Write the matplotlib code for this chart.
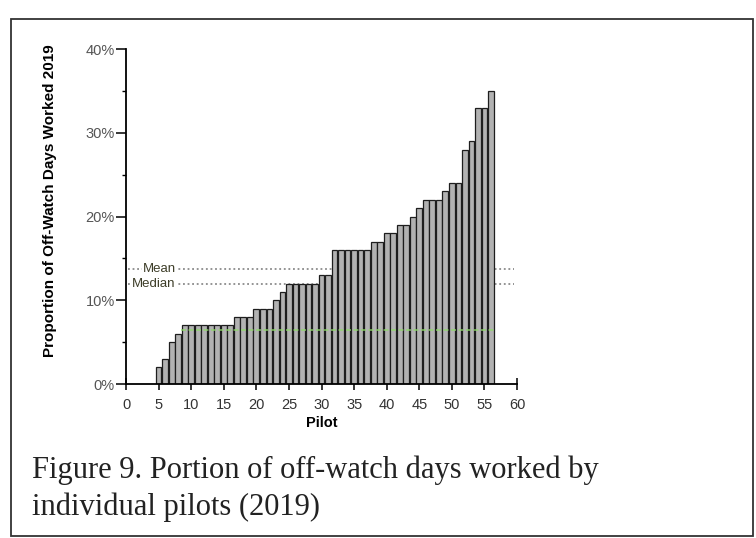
import numpy as np
import matplotlib
matplotlib.use("Agg")
import matplotlib.pyplot as plt
from matplotlib.patches import Rectangle

# proportion of off-watch days worked (%), pilots 1..56 (1-4 worked none)
pilots = list(range(1, 57))
worked = [0, 0, 0, 0,
          2, 3, 5, 6,
          7, 7, 7, 7, 7, 7, 7, 7,
          8, 8, 8,
          9, 9, 9,
          10, 11,
          12, 12, 12, 12, 12,
          13, 13,
          16, 16, 16, 16, 16, 16,
          17, 17, 18, 18, 19, 19,
          20, 21, 22, 22, 22, 23, 24, 24,
          28, 29, 33, 33, 35]
xticks = list(range(0, 61, 5))
yticks = [0, 10, 20, 30, 40]
ytick_labels = ["0%", "10%", "20%", "30%", "40%"]
green_level = 6.4

mean_val = np.mean(worked)
median_val = np.median(worked)

fig = plt.figure(figsize=(7.56, 5.38), dpi=100)
ax = fig.add_axes([0.1667, 0.2862, 0.5172, 0.6227])

p = [x for x, v in zip(pilots, worked) if v > 0]
v = [v for v in worked if v > 0]
ax.bar(p, v, width=0.88, color="#b2b2b2", edgecolor="#1e1e1e", linewidth=0.9, zorder=2)

# mean / median reference lines
ax.plot([0.3, 59.6], [mean_val, mean_val], ls=(0, (1.2, 1.8)), color="#777777", lw=1.1, zorder=1)
ax.plot([0.3, 59.6], [median_val, median_val], ls=(0, (1.2, 1.8)), color="#777777", lw=1.1, zorder=1)
ax.text(7.6, mean_val, "Mean", ha="right", va="center", fontsize=9.5, color="#3d3d28",
        family="Liberation Sans", bbox=dict(facecolor="white", edgecolor="none", pad=0.2), zorder=3)
ax.text(7.6, median_val, "Median", ha="right", va="center", fontsize=9.5, color="#3d3d28",
        family="Liberation Sans", bbox=dict(facecolor="white", edgecolor="none", pad=0.2), zorder=3)

# faint green mark across the bars
ax.plot([8.4, 56.5], [green_level, green_level], ls=(0, (3, 1.5)), color="#8fdc6a", lw=1.2, alpha=0.8, zorder=3)

ax.set_xlim(0, 60)
ax.set_ylim(0, 40)
ax.set_xticks(xticks)
ax.set_yticks(yticks)
ax.set_yticklabels(ytick_labels)
ax.set_yticks([5, 15, 25, 35], minor=True)
ax.tick_params(axis="y", which="major", direction="out", length=7, width=1.1, pad=1,
               labelsize=10.5, labelcolor="#555555")
ax.tick_params(axis="y", which="minor", direction="out", length=3, width=1)
ax.tick_params(axis="x", which="major", direction="inout", length=8, width=1.1, pad=6,
               labelsize=10.5, labelcolor="#333333")
for lab in ax.get_xticklabels() + ax.get_yticklabels():
    lab.set_family("Liberation Sans")

ax.spines["top"].set_visible(False)
ax.spines["right"].set_visible(False)
ax.spines["left"].set_linewidth(1.3)
ax.spines["bottom"].set_linewidth(1.3)

ax.set_xlabel("Pilot", fontsize=10.5, fontweight="bold", family="Liberation Sans", labelpad=3)
ax.set_ylabel("Proportion of Off-Watch Days Worked 2019", fontsize=11, fontweight="bold",
              family="Liberation Sans")
ax.yaxis.set_label_coords(-0.176, 0.546)

# page frame and caption
fig.patches.append(Rectangle((11 / 756, 2 / 538), 742 / 756, 517 / 538, transform=fig.transFigure,
                             fill=False, edgecolor="#333333", linewidth=1.3))
fig.text(32 / 756, 1 - 470 / 538, "Figure 9. Portion of off-watch days worked by",
         fontsize=22, family="Liberation Serif", color="#222222", va="center")
fig.text(32 / 756, 1 - 507 / 538, "individual pilots (2019)",
         fontsize=22, family="Liberation Serif", color="#222222", va="center")

fig.savefig("out.png", dpi=100)
